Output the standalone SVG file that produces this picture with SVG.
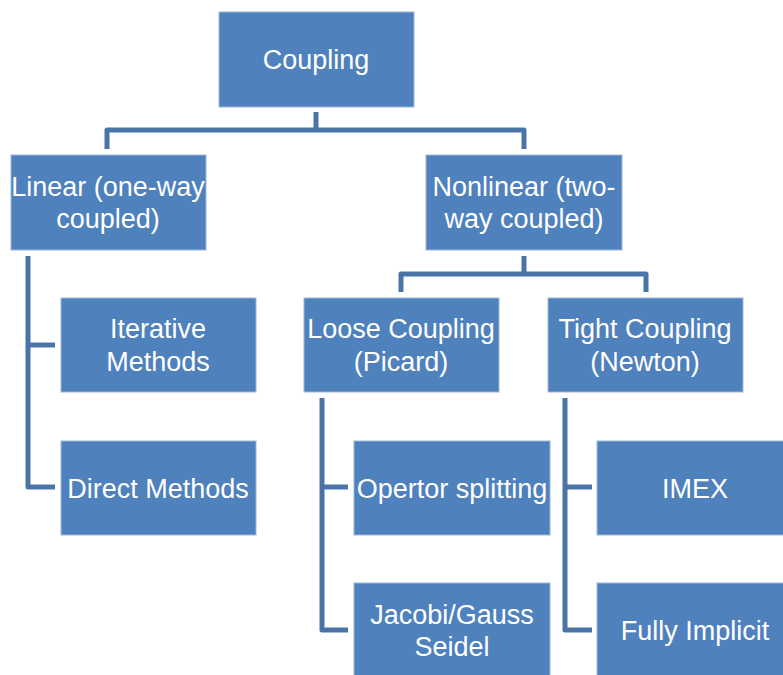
<svg xmlns="http://www.w3.org/2000/svg" width="783" height="675" viewBox="0 0 783 675">
<style>
.box{fill:#4F81BD;stroke:#9DB7D8;stroke-width:1}
.t{font-family:"Liberation Sans",Arial,sans-serif;font-size:27px;fill:#FFFFFF;text-anchor:middle}
.c{fill:none;stroke:#4A74A8;stroke-width:5;stroke-linejoin:round;stroke-linecap:butt}
</style>
<rect width="783" height="675" fill="#FFFFFF"/>
<g id="connectors">
<path class="c" d="M316,112 V130"/>
<path class="c" d="M107,149 V130 H524 V149"/>
<path class="c" d="M524,256 V274"/>
<path class="c" d="M401,292 V274 H646 V292"/>
<path class="c" d="M28,256 V487 H55"/>
<path class="c" d="M28,345 H55"/>
<path class="c" d="M322,398 V630 H348"/>
<path class="c" d="M322,487 H348"/>
<path class="c" d="M565,398 V630 H592"/>
<path class="c" d="M565,487 H592"/>
</g>
<g id="coupling"><rect class="box" x="219" y="12" width="195" height="95"/><text class="t" x="316" y="69">Coupling</text></g>
<g id="linear"><rect class="box" x="11" y="155" width="195" height="95"/><text class="t" x="108" y="196">Linear (one-way</text><text class="t" x="108" y="228">coupled)</text></g>
<g id="nonlinear"><rect class="box" x="426" y="155" width="196" height="95"/><text class="t" x="524" y="196">Nonlinear (two-</text><text class="t" x="524" y="228">way coupled)</text></g>
<g id="iterative"><rect class="box" x="61" y="298" width="195" height="94"/><text class="t" x="158" y="338">Iterative</text><text class="t" x="158" y="371">Methods</text></g>
<g id="direct"><rect class="box" x="61" y="441" width="195" height="94"/><text class="t" x="158" y="498">Direct Methods</text></g>
<g id="loose"><rect class="box" x="304" y="298" width="195" height="94"/><text class="t" x="401" y="338">Loose Coupling</text><text class="t" x="401" y="371">(Picard)</text></g>
<g id="tight"><rect class="box" x="548" y="298" width="195" height="94"/><text class="t" x="645" y="338">Tight Coupling</text><text class="t" x="645" y="371">(Newton)</text></g>
<g id="opertor"><rect class="box" x="354" y="441" width="196" height="94"/><text class="t" x="452" y="498">Opertor splitting</text></g>
<g id="jacobi"><rect class="box" x="354" y="583" width="196" height="94"/><text class="t" x="452" y="624">Jacobi/Gauss</text><text class="t" x="452" y="656">Seidel</text></g>
<g id="imex"><rect class="box" x="597" y="441" width="196" height="94"/><text class="t" x="695" y="498">IMEX</text></g>
<g id="fully"><rect class="box" x="597" y="583" width="196" height="94"/><text class="t" x="695" y="640">Fully Implicit</text></g>
</svg>
